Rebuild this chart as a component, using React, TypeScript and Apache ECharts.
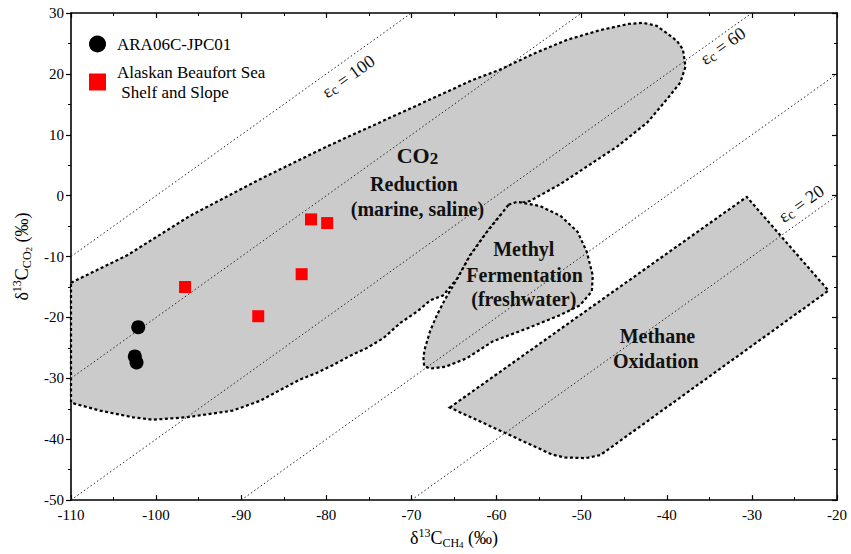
import React, { useEffect, useRef } from "react";
import * as echarts from "echarts";

// ---- axis ranges ----
const X_MIN = -110;
const X_MAX = -20;
const Y_MIN = -50;
const Y_MAX = 30;
const TICK_STEP = 10;

// ---- measured samples ----
const araName = "ARA06C-JPC01";
const araPoints = [
  [-102.1, -21.6],
  [-102.5, -26.4],
  [-102.3, -27.4],
];
const beaufortName = "Alaskan Beaufort Sea\n Shelf and Slope";
const beaufortPoints = [
  [-96.6, -15.0],
  [-88.0, -19.8],
  [-82.9, -12.9],
  [-81.8, -3.9],
  [-79.9, -4.5],
];

// ---- fractionation lines (epsilon_c) ----
const epsValues = [100, 80, 60, 40, 20];
const epsLines = [
  [[-110, -10], [-70, 30]],
  [[-110, -30], [-50, 30]],
  [[-110, -50], [-30, 30]],
  [[-90, -50], [-20, 20]],
  [[-70, -50], [-20, 0]],
];
const epsLabelValues = [100, 60, 20];
const epsLabelPos = [
  [-77.4, 19.6],
  [-33.4, 24.6],
  [-24.2, -1.3],
];

// ---- field outlines ----
const co2Region = [
  [-110, -14.3], [-103.4, -9.8], [-96.0, -3.3], [-87.8, 2.7], [-79.9, 8.1],
  [-72.2, 13.0], [-62.8, 19.0], [-59.6, 20.7], [-55.5, 23.4], [-51.7, 25.6],
  [-47.8, 27.2], [-44.5, 28.2], [-42.8, 28.4], [-41.2, 27.9], [-40.0, 26.7],
  [-38.8, 25.4], [-38.1, 24.0], [-37.8, 21.2], [-38.4, 18.6], [-40.0, 15.8],
  [-42.3, 12.0], [-45.8, 8.1], [-49.8, 4.4], [-52.5, 1.9], [-56.1, -0.9],
  [-57.6, -1.3], [-59.6, -3.3], [-61.1, -5.9], [-63.1, -9.8], [-64.6, -13.6],
  [-66.3, -16.4], [-67.8, -17.2], [-69.3, -19.0], [-71.3, -20.9], [-73.3, -23.4],
  [-75.2, -25.0], [-77.2, -26.3], [-79.2, -27.8], [-81.1, -29.1], [-83.1, -30.2],
  [-87.8, -33.7], [-91.0, -35.3], [-96.4, -36.4], [-100.4, -36.8], [-102.7, -36.4],
  [-106.6, -35.3], [-110, -34.0],
];
const methylRegion = [
  [-58.6, -1.5], [-57.6, -1.0], [-54.9, -1.7], [-52.5, -3.3], [-50.5, -5.9],
  [-49.4, -9.2], [-48.7, -13.1], [-48.8, -15.7], [-50.2, -18.0], [-52.5, -19.6],
  [-56.4, -21.8], [-60.4, -23.9], [-63.5, -26.7], [-66.0, -28.1], [-67.8, -28.4],
  [-68.5, -28.0], [-68.6, -26.5], [-68.4, -25.0], [-67.8, -22.2], [-67.0, -19.6],
  [-66.0, -16.9], [-64.6, -13.6], [-63.1, -9.8], [-61.1, -5.9], [-59.6, -3.3],
];
const oxidationRegion = [
  [-65.5, -34.8], [-30.6, -0.2], [-21.0, -15.6], [-47.8, -42.6],
  [-49.5, -43.1], [-52.0, -43.0], [-53.5, -42.5],
];

// ---- field labels ----
const fieldLabelText = [
  "{big|CO}{bigsub|2}",
  "{b|Reduction}",
  "{b|(marine, saline)}",
  "{b|Methyl}",
  "{b|Fermentation}",
  "{b|(freshwater)}",
  "{b|Methane}",
  "{b|Oxidation}",
];
const fieldLabelPos = [
  [-69.3, 6.6],
  [-69.7, 1.9],
  [-69.3, -2.2],
  [-56.8, -8.7],
  [-56.7, -13.1],
  [-56.8, -17.0],
  [-41.1, -23.0],
  [-41.3, -27.1],
];

const SERIF = "'Liberation Serif', 'DejaVu Serif', serif";

export default function App() {
  const ref = useRef<HTMLDivElement>(null);

  useEffect(() => {
    if (!ref.current) return;
    const chart = echarts.init(ref.current, undefined, { renderer: "svg" });

    const axisCommon = {
      type: "value" as const,
      splitLine: { show: false },
      axisLine: { show: true, onZero: false, lineStyle: { color: "#000", width: 1.6 } },
      axisTick: { show: true, inside: true, length: 5, lineStyle: { color: "#000", width: 1.2 } },
      minorTick: { show: true, splitNumber: 2, length: 3, lineStyle: { color: "#000", width: 1 } },
    };
    const labelStyle = { color: "#000", fontFamily: SERIF, fontSize: 15, margin: 7 };

    const nameRich = {
      m: { fontFamily: SERIF, fontSize: 18, color: "#000", lineHeight: 22, verticalAlign: "middle" },
      sup: { fontFamily: SERIF, fontSize: 12, color: "#000", lineHeight: 12, verticalAlign: "top" },
      sub: { fontFamily: SERIF, fontSize: 12, color: "#000", lineHeight: 11, verticalAlign: "bottom" },
      sub2: { fontFamily: SERIF, fontSize: 9, color: "#000", lineHeight: 6, verticalAlign: "bottom" },
    };

    const regionSeries = (region: number[][], name: string) => ({
      type: "custom",
      name,
      silent: true,
      z: 1,
      data: [region[0]],
      encode: { x: 0, y: 1 },
      renderItem: (_p: any, api: any) => ({
        type: "polygon",
        shape: { points: region.map((pt) => api.coord(pt)) },
        style: { fill: "#cbcbcb", stroke: "#000", lineWidth: 2.2, lineDash: [3, 2.5] },
      }),
    });

    const option: any = {
      animation: false,
      backgroundColor: "#fff",
      grid: { left: 71, right: 14, top: 13, bottom: 51, containLabel: false },
      legend: {
        orient: "vertical",
        left: 84,
        top: 29,
        itemWidth: 17,
        itemHeight: 17,
        itemGap: 8,
        selectedMode: false,
        data: [
          { name: araName, icon: "circle" },
          { name: beaufortName, icon: "rect" },
        ],
        textStyle: { fontFamily: SERIF, fontSize: 17, color: "#000", lineHeight: 20, padding: [0, 0, 0, 6] },
      },
      xAxis: [
        {
          ...axisCommon,
          position: "bottom",
          min: X_MIN,
          max: X_MAX,
          interval: TICK_STEP,
          axisLabel: labelStyle,
          name: "{m|δ}{sup|13}{m|C}{sub|CH}{sub2|4}{m| (‰)}",
          nameLocation: "middle",
          nameGap: 23,
          nameTextStyle: { rich: nameRich },
        },
        {
          ...axisCommon,
          position: "top",
          min: X_MIN,
          max: X_MAX,
          interval: TICK_STEP,
          axisLabel: { show: false },
        },
      ],
      yAxis: [
        {
          ...axisCommon,
          position: "left",
          min: Y_MIN,
          max: Y_MAX,
          interval: TICK_STEP,
          axisTick: { ...axisCommon.axisTick, inside: false },
          axisLabel: labelStyle,
          name: "{m|δ}{sup|13}{m|C}{sub|CO}{sub2|2}{m| (‰)}",
          nameLocation: "middle",
          nameRotate: 90,
          nameGap: 33,
          nameTextStyle: { rich: nameRich },
        },
        {
          ...axisCommon,
          position: "right",
          min: Y_MIN,
          max: Y_MAX,
          interval: TICK_STEP,
          axisLabel: { show: false },
        },
      ],
      series: [
        regionSeries(co2Region, "co2"),
        regionSeries(methylRegion, "methyl"),
        regionSeries(oxidationRegion, "oxidation"),
        ...epsLines.map((ln, i) => ({
          type: "line",
          name: "eps" + epsValues[i],
          data: ln,
          symbol: "none",
          silent: true,
          z: 2,
          lineStyle: { color: "#222", width: 1, type: [1.5, 2.5] },
        })),
        {
          type: "custom",
          name: "epsLabels",
          silent: true,
          z: 3,
          data: epsLabelPos,
          encode: { x: 0, y: 1 },
          renderItem: (params: any, api: any) => {
            const i = params.dataIndex;
            const ln = epsLines[epsValues.indexOf(epsLabelValues[i])];
            const a = api.coord(ln[0]);
            const b = api.coord(ln[1]);
            const ang = Math.atan2(a[1] - b[1], b[0] - a[0]);
            const p = api.coord(epsLabelPos[i]);
            return {
              type: "text",
              x: p[0],
              y: p[1],
              rotation: ang,
              style: {
                text: "{e|ε}{c|c}{e| = " + epsLabelValues[i] + "}",
                align: "center",
                verticalAlign: "middle",
                fontSize: 18,
                fontFamily: SERIF,
                rich: {
                  e: { fontFamily: SERIF, fontSize: 18, fill: "#111", lineHeight: 20, verticalAlign: "middle" },
                  c: { fontFamily: SERIF, fontSize: 14, fill: "#111", lineHeight: 12, verticalAlign: "bottom" },
                },
              },
            };
          },
        },
        {
          type: "custom",
          name: "fieldLabels",
          silent: true,
          z: 3,
          data: fieldLabelPos,
          encode: { x: 0, y: 1 },
          renderItem: (params: any, api: any) => {
            const i = params.dataIndex;
            const p = api.coord(fieldLabelPos[i]);
            return {
              type: "text",
              x: p[0],
              y: p[1],
              style: {
                text: fieldLabelText[i],
                align: "center",
                verticalAlign: "middle",
                rich: {
                  b: { fontFamily: SERIF, fontSize: 20, fontWeight: "bold", fill: "#111", lineHeight: 22 },
                  big: { fontFamily: SERIF, fontSize: 22, fontWeight: "bold", fill: "#111", lineHeight: 24, verticalAlign: "middle" },
                  bigsub: { fontFamily: SERIF, fontSize: 17, fontWeight: "bold", fill: "#111", lineHeight: 12, verticalAlign: "bottom" },
                },
              },
            };
          },
        },
        {
          type: "scatter",
          name: araName,
          data: araPoints,
          symbol: "circle",
          symbolSize: 14,
          z: 5,
          itemStyle: { color: "#000", opacity: 1 },
        },
        {
          type: "scatter",
          name: beaufortName,
          data: beaufortPoints,
          symbol: "rect",
          symbolSize: 12,
          z: 5,
          itemStyle: { color: "#ff0000", opacity: 1 },
        },
      ],
    };

    chart.setOption(option);
    return () => chart.dispose();
  }, []);

  return (
    <div
      ref={ref}
      style={{ position: "fixed", left: 0, top: 0, width: 851, height: 554, background: "#fff" }}
    />
  );
}
